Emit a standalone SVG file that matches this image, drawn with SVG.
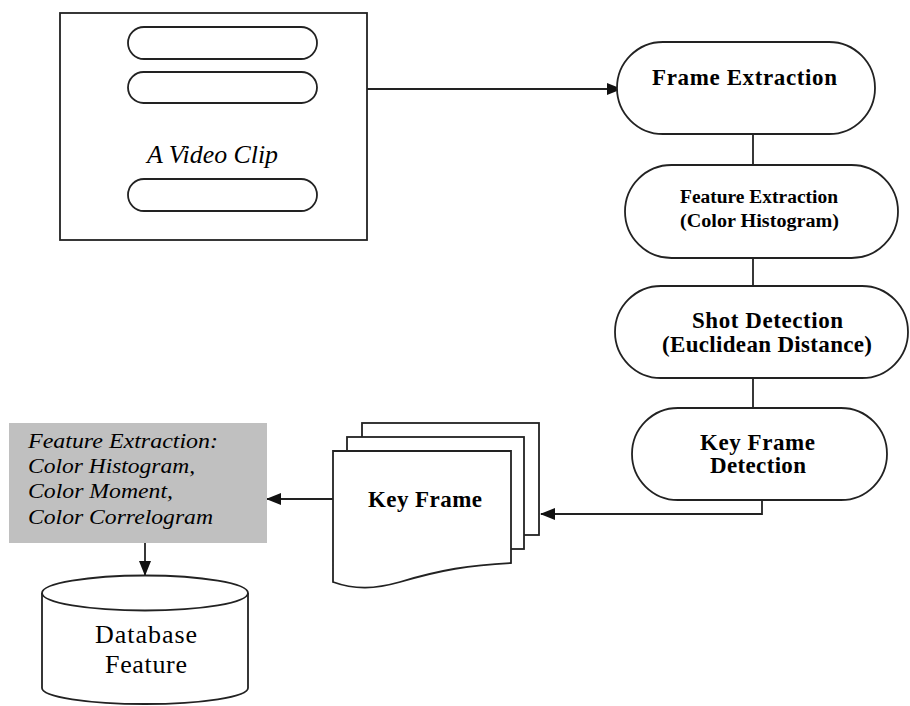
<svg xmlns="http://www.w3.org/2000/svg" width="910" height="706" viewBox="0 0 910 706">
<style>
.s{fill:#fff;stroke:#222;stroke-width:1.8}
.c{fill:none;stroke:#222;stroke-width:1.8}
.t{font-family:"Liberation Serif","Times New Roman",serif;fill:#000}
.b{font-weight:bold}
.i{font-style:italic}
.m{text-anchor:middle}
</style>
<defs>
<marker id="ah" markerWidth="15" markerHeight="12" refX="14" refY="6" orient="auto" markerUnits="userSpaceOnUse">
<path d="M0,0 L15,6 L0,12 Z" fill="#111"/>
</marker>
</defs>
<rect width="910" height="706" fill="#fff"/>
<g id="connectors">
<path class="c" d="M367,89 L621,89" marker-end="url(#ah)"/>
<path class="c" d="M753,134 L753,165"/>
<path class="c" d="M753,258 L753,286"/>
<path class="c" d="M753,378 L753,408"/>
<path class="c" d="M762,500 L762,514 L541,514" marker-end="url(#ah)"/>
<path class="c" d="M333,499 L267,499" marker-end="url(#ah)"/>
<path class="c" d="M145,543 L145,575" marker-end="url(#ah)"/>
</g>
<g id="video-clip">
<rect class="s" x="60" y="13" width="307" height="227"/>
<rect class="s" x="128" y="27" width="189" height="32" rx="16"/>
<rect class="s" x="128" y="72" width="189" height="31" rx="15.5"/>
<rect class="s" x="128" y="179" width="189" height="32" rx="16"/>
<text class="t i m" x="212.5" y="163" font-size="25" textLength="131" lengthAdjust="spacingAndGlyphs">A Video Clip</text>
</g>
<g id="frame-extraction">
<rect class="s" x="617" y="42" width="258" height="92" rx="46"/>
<text class="t b m" x="744.5" y="85" font-size="23" textLength="185" lengthAdjust="spacing">Frame Extraction</text>
</g>
<g id="feature-extraction">
<rect class="s" x="625" y="165" width="273" height="93" rx="46.5"/>
<text class="t b m" x="759" y="203" font-size="18.5" textLength="158" lengthAdjust="spacingAndGlyphs">Feature Extraction</text>
<text class="t b m" x="759.5" y="227" font-size="18.5" textLength="159" lengthAdjust="spacingAndGlyphs">(Color Histogram)</text>
</g>
<g id="shot-detection">
<rect class="s" x="615" y="286" width="293" height="92" rx="46"/>
<text class="t b m" x="767.5" y="328" font-size="23" textLength="151" lengthAdjust="spacing">Shot Detection</text>
<text class="t b m" x="767" y="352" font-size="23" textLength="210" lengthAdjust="spacing">(Euclidean Distance)</text>
</g>
<g id="key-frame-detection">
<rect class="s" x="632" y="408" width="255" height="92" rx="46"/>
<text class="t b m" x="757.5" y="450" font-size="23" textLength="115" lengthAdjust="spacing">Key Frame</text>
<text class="t b m" x="758" y="473" font-size="23" textLength="96" lengthAdjust="spacing">Detection</text>
</g>
<g id="key-frame">
<rect class="s" x="362" y="423" width="177" height="112"/>
<rect class="s" x="347" y="437" width="177" height="112"/>
<path class="s" d="M333,451 L511,451 L511,563 C470,565 440,570 400,582 C375,589 355,590 333,582 Z"/>
<text class="t b m" x="425" y="507" font-size="23" textLength="114" lengthAdjust="spacing">Key Frame</text>
</g>
<g id="feature-extraction-methods">
<rect x="9" y="423" width="258" height="120" fill="#c0c0c0"/>
<text class="t i" x="28" y="448" font-size="21" textLength="190" lengthAdjust="spacingAndGlyphs">Feature Extraction:</text>
<text class="t i" x="28" y="473" font-size="21" textLength="167" lengthAdjust="spacingAndGlyphs">Color Histogram,</text>
<text class="t i" x="28" y="498" font-size="21" textLength="145" lengthAdjust="spacingAndGlyphs">Color Moment,</text>
<text class="t i" x="28" y="524" font-size="21" textLength="185" lengthAdjust="spacingAndGlyphs">Color Correlogram</text>
</g>
<g id="database-feature">
<path class="s" d="M42,593 L42,688 A103,16 0 0 0 248,688 L248,593"/>
<ellipse class="s" cx="145" cy="593" rx="103" ry="17.5"/>
<text class="t m" x="146" y="643" font-size="26" textLength="102" lengthAdjust="spacing">Database</text>
<text class="t m" x="146" y="673" font-size="26" textLength="82" lengthAdjust="spacing">Feature</text>
</g>
</svg>
